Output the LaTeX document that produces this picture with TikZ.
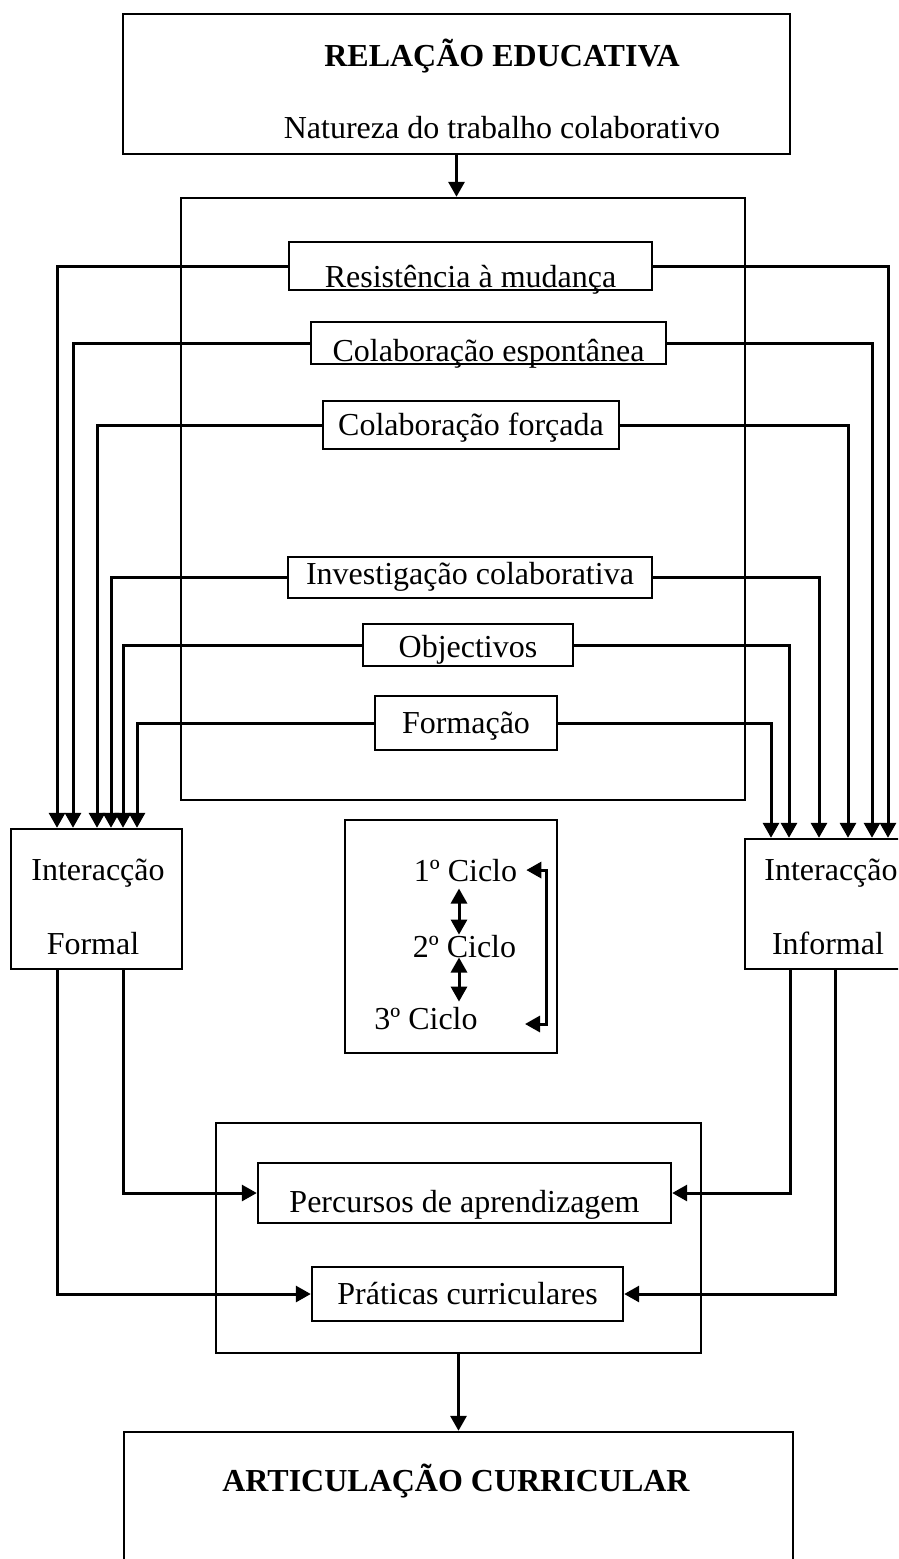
\documentclass[tikz,border=0pt]{standalone}
\usepackage{fontspec}
\setmainfont{Liberation Serif}
\usetikzlibrary{arrows.meta,positioning}

\begin{document}
\begin{tikzpicture}[x=1pt,y=-1pt,>={Triangle[length=15pt,width=16pt]},
  font=\fontsize{32}{38}\selectfont]
  \tikzstyle{box}=[draw,line width=2.4pt,inner sep=0pt]
  \tikzstyle{lbl}=[inner sep=0pt,anchor=base]
  \tikzstyle{bold}=[font=\fontsize{32}{38}\selectfont\bfseries]
  \tikzstyle{link}=[line width=3pt]
  \useasboundingbox (0,0) rectangle (898,1559);
  \clip (0,0) rectangle (898,1559);

  \node (rel) [box,minimum width=667pt,minimum height=140pt] at (456.5,84) {};
  \node (relt) [lbl,bold] at (502,66) {RELAÇÃO EDUCATIVA};
  \node (rels) [lbl] at (502,138) {Natureza do trabalho colaborativo};

  \node (nat) [box,minimum width=564pt,minimum height=602pt] at (463,499) {};
  \node (res)  [box,minimum width=363pt,minimum height=48pt,text height=45pt,text depth=3pt] at (470.5,266) {Resistência à mudança};
  \node (esp)  [box,minimum width=355pt,minimum height=42pt,text height=39pt,text depth=3pt] at (488.5,343) {Colaboração espontânea};
  \node (forc) [box,minimum width=296pt,minimum height=48pt,text height=34pt,text depth=14pt] at (471,425) {Colaboração forçada};
  \node (inv)  [box,minimum width=364pt,minimum height=41pt,text height=27pt,text depth=14pt] at (470,577.5) {Investigação colaborativa};
  \node (obj)  [box,minimum width=210pt,minimum height=42pt,text height=33pt,text depth=9pt] at (468,645) {Objectivos};
  \node (form) [box,minimum width=182pt,minimum height=54pt,text height=37pt,text depth=17pt] at (466,723) {Formação};

  \node (formal) [box,minimum width=171pt,minimum height=140pt] at (96.5,899) {};
  \node (formal1) [lbl] at (98,880) {Interacção};
  \node (formal2) [lbl] at (93,954) {Formal};
  \node (informal) [box,minimum width=160pt,minimum height=130pt] at (825,904) {};
  \node (informal1) [lbl] at (831,880) {Interacção};
  \node (informal2) [lbl] at (828,954) {Informal};

  \node (cyc) [box,minimum width=212pt,minimum height=233pt] at (451,936.5) {};
  \node (c1) [lbl] at (465.5,881) {1º Ciclo};
  \node (c2) [lbl] at (464.5,957) {2º Ciclo};
  \node (c3) [lbl] at (426,1029) {3º Ciclo};
  \coordinate (cx) at (459,0);
  \coordinate (br1) at ([xshift=9pt]c1.east);
  \coordinate (br3) at (525,1024);

  \node (low) [box,minimum width=485pt,minimum height=230pt] at (458.5,1238) {};
  \node (perc) [box,minimum width=413pt,minimum height=60pt,text height=49pt,text depth=11pt] at (464.5,1193) {Percursos de aprendizagem};
  \node (prat) [box,minimum width=311pt,minimum height=54pt,text height=37pt,text depth=17pt] at (467.5,1294) {Práticas curriculares};

  \node (art) [box,minimum width=669pt,minimum height=143pt] at (458.5,1503.5) {};
  \node (artt) [lbl,bold] at (456,1491) {ARTICULAÇÃO CURRICULAR};

  \draw[link,->] (rel.south) -- (rel.south |- nat.north);
  \draw[link,->] (res.west)  -| ([xshift=-39.5pt]formal.north);
  \draw[link,->] (esp.west)  -| ([xshift=-23.5pt]formal.north);
  \draw[link,->] (forc.west) -| ([xshift=0.5pt]formal.north);
  \draw[link,->] (inv.west)  -| ([xshift=14.5pt]formal.north);
  \draw[link,->] (obj.west)  -| ([xshift=26.5pt]formal.north);
  \draw[link,->] (form.west) -| ([xshift=40.5pt]formal.north);
  \draw[link,->] (res.east)  -| ([xshift=63pt]informal.north);
  \draw[link,->] (esp.east)  -| ([xshift=47pt]informal.north);
  \draw[link,->] (forc.east) -| ([xshift=23pt]informal.north);
  \draw[link,->] (inv.east)  -| ([xshift=-6pt]informal.north);
  \draw[link,->] (obj.east)  -| ([xshift=-36pt]informal.north);
  \draw[link,->] (form.east) -| ([xshift=-54pt]informal.north);

  \draw[link,<->,shorten <=7pt] (c1.south -| cx) -- (c2.north -| cx);
  \draw[link,<->,shorten >=5pt] (c2.south -| cx) -- (c3.north -| cx);
  \draw[link,<->] (br1) -- ++(20,0) |- (br3);

  \draw[link,->] ([xshift=26.5pt]formal.south) |- (perc.west);
  \draw[link,->] ([xshift=-39.5pt]formal.south) |- (prat.west);
  \draw[link,->] ([xshift=-35pt]informal.south) |- (perc.east);
  \draw[link,->] ([xshift=10pt]informal.south) |- (prat.east);
  \draw[link,->] (low.south) -- (art.north);
\end{tikzpicture}
\end{document}
